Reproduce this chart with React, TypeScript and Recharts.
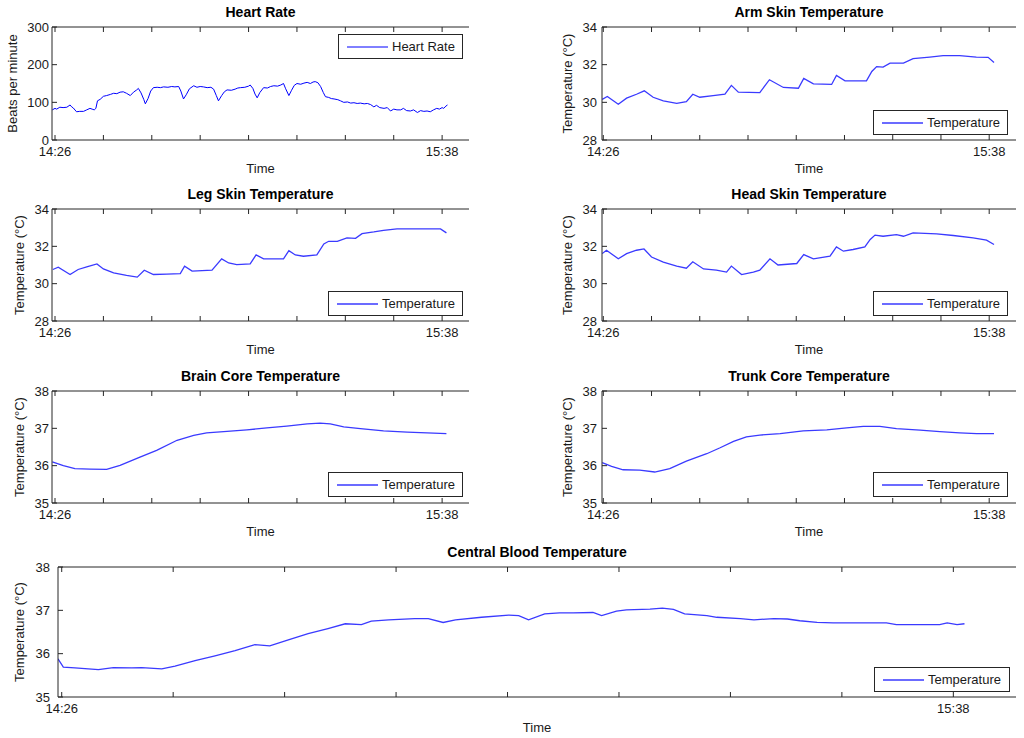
import React from 'react';
import { LineChart, Line, XAxis, YAxis, Legend } from 'recharts';

const FONT = '"Liberation Sans", Arial, Helvetica, sans-serif';
const AXIS = '#262626';
const TEXT = '#1a1a1a';

// ---- tick definitions ----
const timeTicks = [0, 9, 18, 27, 36, 45, 54, 63, 72];
const timeTickLabels = ['14:26', '', '', '', '', '', '', '', '15:38'];
const hrTicks = [0, 100, 200, 300];
const skinTicks = [28, 30, 32, 34];
const coreTicks = [35, 36, 37, 38];

// ---- data (minutes after 14:26, values) ----
const hrMinutes = [-0.5, 0, 0.3, 0.9, 1.5, 2.2, 2.8, 3.1, 3.4, 4.0, 4.6, 5.3, 5.9, 6.5, 6.9, 7.3, 7.6, 7.9, 8.4, 9.0, 9.6, 10.3, 10.9, 11.5, 12.1, 12.7, 13.3, 14.0, 14.6, 15.2, 15.5, 16.0, 16.5, 16.8, 17.3, 17.8, 18.3, 19.0, 19.6, 20.2, 21.0, 21.7, 22.3, 23.0, 23.4, 23.9, 24.4, 25.0, 25.8, 26.4, 27.0, 27.6, 28.3, 29.0, 29.5, 30.0, 30.4, 31.0, 31.5, 32.0, 32.8, 33.5, 34.0, 34.5, 35.3, 36.0, 36.3, 36.8, 37.2, 37.6, 38.1, 38.8, 39.5, 40.1, 40.7, 41.4, 42.0, 42.5, 42.9, 43.5, 44.0, 44.5, 45.0, 45.7, 46.3, 46.9, 47.5, 48.0, 48.4, 48.9, 49.4, 49.9, 50.3, 50.9, 51.4, 51.9, 52.6, 53.1, 53.7, 54.4, 55.0, 55.6, 56.2, 56.8, 57.5, 58.1, 58.7, 59.3, 59.8, 60.4, 61.2, 61.8, 62.4, 63.0, 63.6, 64.3, 64.8, 65.4, 66.1, 66.7, 67.4, 68.0, 68.6, 69.2, 69.8, 70.4, 71.0, 71.5, 72.0, 72.3, 72.7, 73.0];
const hrBpm = [80, 84, 82, 87, 86, 87, 93, 88, 85, 75, 76, 76, 80, 84, 82, 80, 84, 104, 108, 116, 118, 121, 124, 123, 127, 128, 124, 118, 127, 133, 137, 125, 108, 96, 110, 130, 139, 140, 139, 141, 140, 142, 141, 142, 130, 109, 120, 136, 144, 140, 142, 141, 139, 140, 135, 118, 104, 118, 128, 133, 132, 135, 138, 139, 140, 143, 146, 137, 122, 112, 126, 139, 138, 142, 144, 143, 146, 150, 136, 118, 132, 145, 150, 148, 151, 153, 150, 154, 155, 152, 142, 126, 115, 113, 110, 109, 107, 104, 100, 101, 98, 99, 97, 98, 96, 97, 94, 88, 92, 86, 84, 86, 77, 82, 80, 80, 84, 78, 77, 80, 73, 78, 76, 77, 75, 80, 84, 82, 86, 84, 90, 93];

const armMinutes = [-0.2, 0.75, 2.8, 4.35, 6.2, 7.65, 9.3, 11.2, 13.7, 15.5, 16.7, 18.0, 20.5, 22.7, 23.9, 25.2, 29.2, 31.0, 33.6, 36.4, 37.4, 39.2, 42.6, 43.5, 45.1, 49.1, 50.1, 51.0, 52.2, 53.5, 56.0, 57.8, 60.9, 63.4, 66.5, 69.6, 71.8, 72.9];
const armTemp = [30.16, 30.31, 29.9, 30.22, 30.43, 30.61, 30.27, 30.08, 29.95, 30.04, 30.43, 30.27, 30.36, 30.43, 30.9, 30.54, 30.52, 31.2, 30.79, 30.75, 31.27, 30.98, 30.95, 31.43, 31.14, 31.14, 31.64, 31.9, 31.87, 32.08, 32.08, 32.32, 32.4, 32.48, 32.48, 32.4, 32.39, 32.12];

const legMinutes = [-0.4, 0.6, 2.8, 4.3, 5.9, 7.8, 9.0, 10.9, 13.3, 15.3, 16.6, 18.3, 20.8, 23.3, 24.1, 25.5, 29.2, 31.0, 32.3, 33.8, 36.3, 37.4, 38.8, 42.5, 43.5, 44.7, 46.2, 48.7, 50.0, 50.9, 52.5, 54.3, 55.9, 57.1, 59.3, 61.1, 63.6, 68.0, 71.7, 72.8];
const legTemp = [30.76, 30.88, 30.49, 30.76, 30.9, 31.06, 30.79, 30.58, 30.44, 30.35, 30.72, 30.49, 30.51, 30.54, 30.94, 30.67, 30.72, 31.33, 31.11, 31.02, 31.06, 31.54, 31.33, 31.33, 31.77, 31.54, 31.47, 31.54, 32.13, 32.27, 32.27, 32.45, 32.43, 32.68, 32.77, 32.86, 32.93, 32.93, 32.93, 32.72];

const headMinutes = [-0.2, 0.6, 2.8, 4.35, 6.2, 7.6, 9.0, 11.2, 13.7, 15.5, 16.7, 18.7, 21.1, 23.0, 23.9, 25.8, 28.0, 29.2, 31.1, 32.6, 36.1, 37.4, 39.2, 42.3, 43.5, 44.8, 46.6, 48.8, 49.8, 50.7, 52.2, 54.7, 56.0, 57.8, 62.2, 65.3, 69.0, 71.5, 72.9];
const headTemp = [31.61, 31.79, 31.33, 31.61, 31.79, 31.86, 31.43, 31.15, 30.94, 30.83, 31.17, 30.79, 30.72, 30.62, 30.94, 30.49, 30.62, 30.72, 31.33, 31.0, 31.08, 31.56, 31.33, 31.47, 31.97, 31.74, 31.83, 31.97, 32.37, 32.6, 32.54, 32.63, 32.54, 32.72, 32.67, 32.58, 32.45, 32.33, 32.1];

const brainMinutes = [-0.5, 1.55, 3.7, 6.5, 9.6, 12.1, 15.8, 18.9, 22.7, 25.8, 28.2, 32.0, 35.7, 39.4, 43.1, 46.9, 49.3, 51.2, 53.7, 56.8, 61.1, 65.5, 69.2, 72.8];
const brainTemp = [36.1, 36.0, 35.92, 35.91, 35.9, 36.01, 36.23, 36.41, 36.68, 36.81, 36.88, 36.92, 36.96, 37.01, 37.06, 37.12, 37.14, 37.12, 37.04, 36.99, 36.93, 36.9, 36.88, 36.86];

const trunkMinutes = [-0.2, 1.55, 3.7, 6.8, 9.6, 12.4, 15.5, 19.3, 21.8, 24.3, 26.7, 29.2, 33.0, 37.3, 41.7, 45.4, 48.5, 51.6, 54.7, 59.1, 62.8, 66.5, 69.65, 72.9];
const trunkTemp = [36.08, 35.98, 35.89, 35.88, 35.83, 35.92, 36.12, 36.32, 36.48, 36.65, 36.77, 36.82, 36.86, 36.93, 36.96, 37.01, 37.05, 37.05, 36.99, 36.95, 36.91, 36.88, 36.86, 36.86];

const bloodMinutes = [-0.3, 0.13, 1.07, 2.96, 4.17, 5.65, 6.46, 8.08, 9.15, 10.77, 12.38, 14.0, 15.6, 16.8, 18.3, 19.9, 21.5, 22.9, 24.2, 25.0, 26.4, 28.5, 29.6, 30.8, 31.8, 33.9, 36.1, 36.9, 37.7, 39.0, 40.2, 41.3, 42.9, 43.6, 44.8, 45.6, 47.5, 48.5, 49.4, 50.3, 52.1, 52.9, 54.8, 55.9, 57.5, 58.6, 59.6, 61.0, 62.3, 64.2, 66.6, 67.4, 69.6, 70.9, 71.5, 72.3, 72.9];
const bloodTemp = [35.88, 35.69, 35.67, 35.63, 35.68, 35.67, 35.68, 35.65, 35.71, 35.84, 35.95, 36.07, 36.21, 36.18, 36.32, 36.46, 36.58, 36.69, 36.67, 36.75, 36.78, 36.81, 36.81, 36.72, 36.78, 36.84, 36.89, 36.88, 36.78, 36.92, 36.94, 36.94, 36.95, 36.88, 36.98, 37.01, 37.03, 37.05, 37.02, 36.92, 36.88, 36.84, 36.81, 36.78, 36.81, 36.8, 36.76, 36.72, 36.71, 36.71, 36.71, 36.67, 36.67, 36.67, 36.71, 36.67, 36.69];

const TICK_LEN = 5;

function timeLabel(v: number) {
  const i = timeTicks.indexOf(v);
  return i >= 0 ? timeTickLabels[i] : '';
}

function BottomTick(props: any) {
  const { x, y, payload } = props;
  return (
    <g>
      <line x1={x} y1={y} x2={x} y2={y - TICK_LEN} stroke={AXIS} strokeWidth={1} />
      <text x={x} y={y + 7} dy="0.71em" textAnchor="middle" fontSize={13} fill={TEXT} fontFamily={FONT}>
        {timeLabel(payload.value)}
      </text>
    </g>
  );
}

function TopTick(props: any) {
  const { x, y } = props;
  return <line x1={x} y1={y} x2={x} y2={y + TICK_LEN} stroke={AXIS} strokeWidth={1} />;
}

function makeLeftTick(gap: number) {
  return function LeftTick(props: any) {
    const { x, y, payload } = props;
    return (
      <g>
        <line x1={x} y1={y} x2={x + TICK_LEN} y2={y} stroke={AXIS} strokeWidth={1} />
        <text x={x - gap} y={y} dy="0.36em" textAnchor="end" fontSize={13} fill={TEXT} fontFamily={FONT}>
          {payload.value}
        </text>
      </g>
    );
  };
}

function RightTick(props: any) {
  const { x, y } = props;
  return <line x1={x} y1={y} x2={x - TICK_LEN} y2={y} stroke={AXIS} strokeWidth={1} />;
}

function TitleLabel(props: any) {
  const { viewBox, value } = props;
  const vb = viewBox || { x: 0, y: 0, width: 0 };
  return (
    <text
      x={vb.x + vb.width / 2}
      y={vb.y + (vb.height || 0) - 10}
      textAnchor="middle"
      fontSize={14}
      fontWeight="bold"
      fill="#000"
      fontFamily={FONT}
    >
      {value}
    </text>
  );
}

type Box = { x: number; y: number; w: number; h: number };

type PanelProps = {
  x: number;
  y: number;
  w: number;
  h: number;
  xDomain: [number, number];
  yDomain: [number, number];
  yTicks: number[];
  minutes: number[];
  values: number[];
  title: string;
  yLabel: string;
  yLabelX: number;
  legendText: string;
  legend: Box;
  color: string;
  strokeWidth: number;
  timeBase: number;
  yTickGap: number;
};

function Panel(p: PanelProps) {
  const PADL = 50;
  const PADT = 25;
  const PADR = 10;
  const PADB = 45;
  const XH = 40;
  const TH = 1;
  const W = p.w + PADL + PADR;
  const H = p.h + PADT + PADB;
  const ox = p.x - PADL;
  const oy = p.y - PADT;
  const data = p.minutes.map((t, i) => ({ t, v: p.values[i] }));
  const LeftTick = makeLeftTick(p.yTickGap);

  const legendContent = () => (
    <div
      style={{
        width: p.legend.w,
        height: p.legend.h,
        boxSizing: 'border-box',
        border: `1px solid ${AXIS}`,
        background: '#fff',
        display: 'flex',
        alignItems: 'center',
        paddingLeft: 8,
        fontFamily: FONT,
        fontSize: 13,
        color: TEXT,
        whiteSpace: 'nowrap',
      }}
    >
      <svg width={41} height={4} style={{ marginRight: 4, display: 'block' }}>
        <line x1={0} y1={2} x2={41} y2={2} stroke={p.color} strokeWidth={p.strokeWidth} />
      </svg>
      <span>{p.legendText}</span>
    </div>
  );

  return (
    <div style={{ position: 'absolute', left: ox, top: oy, width: W, height: H }}>
      <LineChart
        width={W}
        height={H}
        data={data}
        margin={{ top: PADT - TH, right: PADR, bottom: PADB - XH, left: 0 }}
      >
        <XAxis
          xAxisId="b"
          dataKey="t"
          type="number"
          domain={p.xDomain}
          ticks={timeTicks}
          interval={0}
          allowDataOverflow
          height={XH}
          tickSize={0}
          tickMargin={0}
          tickLine={false}
          axisLine={{ stroke: AXIS }}
          tick={(tp: any) => <BottomTick {...tp} />}
          label={{
            value: 'Time',
            position: 'insideBottom',
            offset: XH - p.timeBase,
            fontSize: 13,
            fill: TEXT,
            fontFamily: FONT,
          }}
        />
        <XAxis
          xAxisId="t"
          orientation="top"
          dataKey="t"
          type="number"
          domain={p.xDomain}
          ticks={timeTicks}
          interval={0}
          allowDataOverflow
          height={TH}
          tickSize={0}
          tickMargin={0}
          tickLine={false}
          axisLine={{ stroke: AXIS }}
          tick={(tp: any) => <TopTick {...tp} />}
          label={<TitleLabel value={p.title} />}
        />
        <YAxis
          yAxisId="l"
          type="number"
          domain={p.yDomain}
          ticks={p.yTicks}
          interval={0}
          allowDataOverflow
          width={PADL}
          tickSize={0}
          tickMargin={0}
          tickLine={false}
          axisLine={{ stroke: AXIS }}
          tick={(tp: any) => <LeftTick {...tp} />}
          label={{
            value: p.yLabel,
            angle: -90,
            position: 'insideLeft',
            offset: p.yLabelX - ox,
            style: { textAnchor: 'middle' },
            fontSize: 13,
            fill: TEXT,
            fontFamily: FONT,
          }}
        />
        <YAxis
          yAxisId="r"
          orientation="right"
          type="number"
          domain={p.yDomain}
          ticks={p.yTicks}
          interval={0}
          allowDataOverflow
          width={0}
          tickSize={0}
          tickMargin={0}
          tickLine={false}
          axisLine={{ stroke: AXIS }}
          tick={(tp: any) => <RightTick {...tp} />}
        />
        <Legend
          layout="vertical"
          align="center"
          verticalAlign="middle"
          wrapperStyle={{
            left: p.legend.x - ox,
            top: p.legend.y - oy,
            width: p.legend.w,
            height: p.legend.h,
          }}
          content={legendContent}
        />
        <Line
          xAxisId="b"
          yAxisId="l"
          type="linear"
          dataKey="v"
          name={p.legendText}
          stroke={p.color}
          strokeWidth={p.strokeWidth}
          dot={false}
          activeDot={false}
          isAnimationActive={false}
        />
      </LineChart>
    </div>
  );
}

const HR_COLOR = '#0000ff';
const T_COLOR = '#3a3aff';
const TEMP_LABEL = 'Temperature (°C)';

export default function App() {
  return (
    <div
      style={{
        position: 'absolute',
        left: 0,
        top: 0,
        width: 1024,
        height: 738,
        background: '#fff',
        overflow: 'hidden',
      }}
    >
      <Panel
        x={52} y={27} w={417} h={113}
        xDomain={[-0.56, 77.0]} yDomain={[0, 300]} yTicks={hrTicks}
        minutes={hrMinutes} values={hrBpm}
        title="Heart Rate" yLabel="Beats per minute" yLabelX={12}
        legendText="Heart Rate" legend={{ x: 338, y: 34, w: 125, h: 25 }}
        color={HR_COLOR} strokeWidth={1} timeBase={33} yTickGap={3}
      />
      <Panel
        x={602} y={27} w={414} h={113}
        xDomain={[-0.24, 77.0]} yDomain={[28, 34]} yTicks={skinTicks}
        minutes={armMinutes} values={armTemp}
        title="Arm Skin Temperature" yLabel={TEMP_LABEL} yLabelX={567.5}
        legendText="Temperature" legend={{ x: 873, y: 110, w: 135, h: 25 }}
        color={T_COLOR} strokeWidth={1.3} timeBase={33} yTickGap={5}
      />
      <Panel
        x={52} y={209} w={417} h={112}
        xDomain={[-0.56, 77.0]} yDomain={[28, 34]} yTicks={skinTicks}
        minutes={legMinutes} values={legTemp}
        title="Leg Skin Temperature" yLabel={TEMP_LABEL} yLabelX={19}
        legendText="Temperature" legend={{ x: 328, y: 291, w: 135, h: 25 }}
        color={T_COLOR} strokeWidth={1.3} timeBase={33} yTickGap={3}
      />
      <Panel
        x={602} y={209} w={414} h={112}
        xDomain={[-0.24, 77.0]} yDomain={[28, 34]} yTicks={skinTicks}
        minutes={headMinutes} values={headTemp}
        title="Head Skin Temperature" yLabel={TEMP_LABEL} yLabelX={567.5}
        legendText="Temperature" legend={{ x: 873, y: 291, w: 135, h: 25 }}
        color={T_COLOR} strokeWidth={1.3} timeBase={33} yTickGap={5}
      />
      <Panel
        x={52} y={391} w={417} h={112}
        xDomain={[-0.56, 77.0]} yDomain={[35, 38]} yTicks={coreTicks}
        minutes={brainMinutes} values={brainTemp}
        title="Brain Core Temperature" yLabel={TEMP_LABEL} yLabelX={19}
        legendText="Temperature" legend={{ x: 328, y: 472, w: 135, h: 25 }}
        color={T_COLOR} strokeWidth={1.3} timeBase={33} yTickGap={3}
      />
      <Panel
        x={602} y={391} w={414} h={112}
        xDomain={[-0.24, 77.0]} yDomain={[35, 38]} yTicks={coreTicks}
        minutes={trunkMinutes} values={trunkTemp}
        title="Trunk Core Temperature" yLabel={TEMP_LABEL} yLabelX={567.5}
        legendText="Temperature" legend={{ x: 873, y: 472, w: 135, h: 25 }}
        color={T_COLOR} strokeWidth={1.3} timeBase={33} yTickGap={5}
      />
      <Panel
        x={58} y={567} w={958} h={130}
        xDomain={[-0.3, 77.06]} yDomain={[35, 38]} yTicks={coreTicks}
        minutes={bloodMinutes} values={bloodTemp}
        title="Central Blood Temperature" yLabel={TEMP_LABEL} yLabelX={19}
        legendText="Temperature" legend={{ x: 874, y: 667, w: 136, h: 25 }}
        color={T_COLOR} strokeWidth={1.3} timeBase={35} yTickGap={8}
      />
    </div>
  );
}
